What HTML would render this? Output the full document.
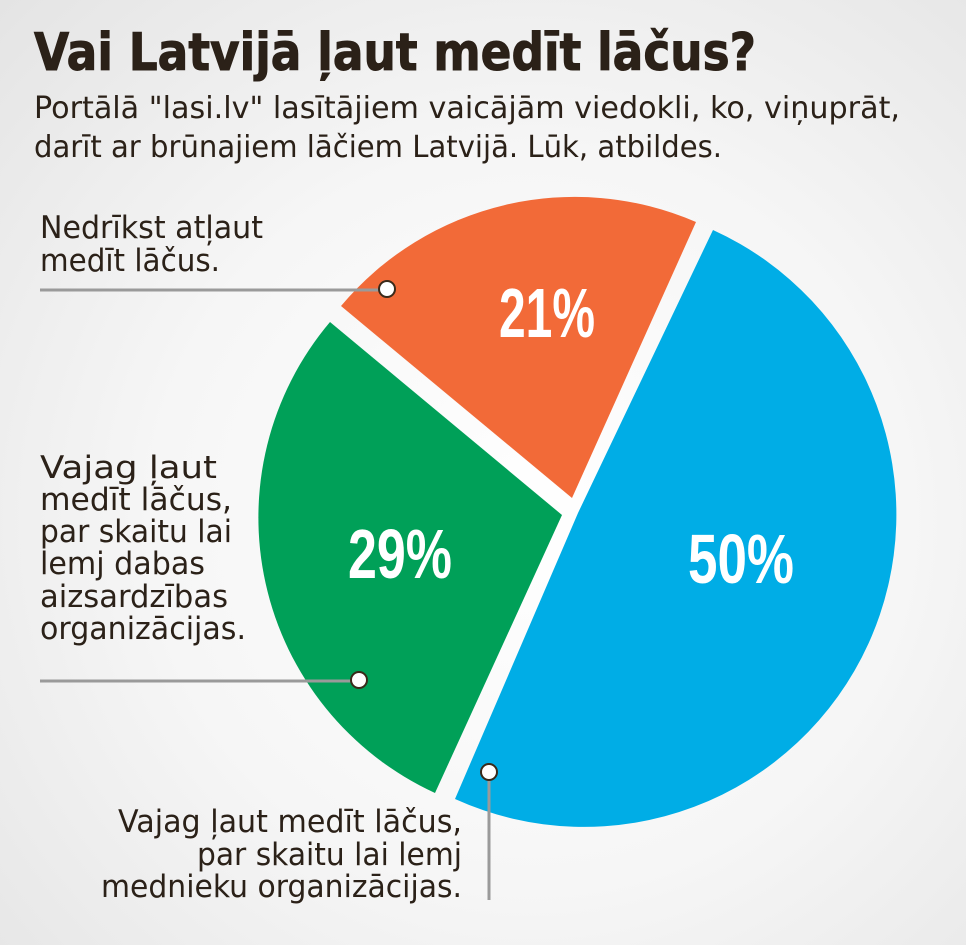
<!DOCTYPE html>
<html><head><meta charset="utf-8"><style>
html,body{margin:0;padding:0;}
body{width:966px;height:945px;overflow:hidden;background:radial-gradient(ellipse at 55% 55%,#ffffff 0%,#f6f6f6 50%,#e4e4e4 100%);}
svg{display:block}
.t{font-family:"DejaVu Sans","Liberation Sans",sans-serif;fill:#2b2118;}
.p{font-family:"Liberation Sans Narrow","Liberation Sans",sans-serif;font-weight:bold;fill:#fff;}
</style></head><body>
<svg width="966" height="945" viewBox="0 0 966 945" xmlns="http://www.w3.org/2000/svg">
<text class="t" x="34" y="70" font-size="52" font-weight="bold" stroke="#2b2118" stroke-width="1" textLength="722" lengthAdjust="spacingAndGlyphs">Vai Latvijā ļaut medīt lāčus?</text>
<text class="t" x="34" y="118" font-size="30" textLength="866" lengthAdjust="spacingAndGlyphs">Portālā "lasi.lv" lasītājiem vaicājām viedokli, ko, viņuprāt,</text>
<text class="t" x="34" y="157" font-size="30" textLength="688" lengthAdjust="spacingAndGlyphs">darīt ar brūnajiem lāčiem Latvijā. Lūk, atbildes.</text>

<path d="M572,498 L341,306 A305 305 0 0 1 696,222 Z" fill="#f26a38"/>
<path d="M562,515 L435,793 A303 303 0 0 1 330,322 Z" fill="#00a058"/>
<path d="M578,513 L713,230 A312 312 0 0 1 455,799 Z" fill="#00ade6"/>

<text class="p" x="547" y="337" font-size="70" text-anchor="middle" textLength="96" lengthAdjust="spacingAndGlyphs">21%</text>
<text class="p" x="400" y="578" font-size="70" text-anchor="middle" textLength="104" lengthAdjust="spacingAndGlyphs">29%</text>
<text class="p" x="741" y="583" font-size="70" text-anchor="middle" textLength="106" lengthAdjust="spacingAndGlyphs">50%</text>

<g stroke="#9a9a9a" stroke-width="3" fill="none">
<line x1="40" y1="290" x2="385" y2="290"/>
<line x1="40" y1="681" x2="357" y2="681"/>
<line x1="489" y1="772" x2="489" y2="900"/>
</g>
<g fill="#fff" stroke="#3a2a1a" stroke-width="2">
<circle cx="387" cy="289" r="8"/>
<circle cx="359" cy="680" r="8"/>
<circle cx="489" cy="772" r="8"/>
</g>

<g class="t" font-size="31">
<text class="t" x="40" y="238" textLength="223" lengthAdjust="spacingAndGlyphs">Nedrīkst atļaut</text>
<text class="t" x="40" y="271" textLength="180" lengthAdjust="spacingAndGlyphs">medīt lāčus.</text>
<text class="t" x="40" y="478" textLength="177" lengthAdjust="spacingAndGlyphs">Vajag ļaut</text>
<text class="t" x="40" y="510" textLength="192" lengthAdjust="spacingAndGlyphs">medīt lāčus,</text>
<text class="t" x="40" y="542" textLength="192" lengthAdjust="spacingAndGlyphs">par skaitu lai</text>
<text class="t" x="40" y="574" textLength="165" lengthAdjust="spacingAndGlyphs">lemj dabas</text>
<text class="t" x="40" y="607" textLength="188" lengthAdjust="spacingAndGlyphs">aizsardzības</text>
<text class="t" x="40" y="639" textLength="206" lengthAdjust="spacingAndGlyphs">organizācijas.</text>
<text class="t" x="118" y="832" textLength="344" lengthAdjust="spacingAndGlyphs">Vajag ļaut medīt lāčus,</text>
<text class="t" x="197" y="865" textLength="265" lengthAdjust="spacingAndGlyphs">par skaitu lai lemj</text>
<text class="t" x="101" y="897" textLength="361" lengthAdjust="spacingAndGlyphs">mednieku organizācijas.</text>
</g>
</svg>
</body></html>
